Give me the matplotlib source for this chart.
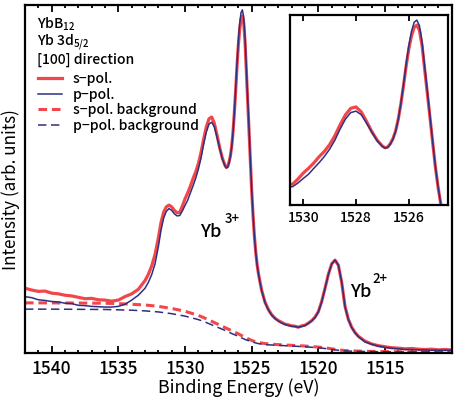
import matplotlib
matplotlib.use("Agg")
import matplotlib.pyplot as plt
from matplotlib.lines import Line2D

plt.rcParams['font.family'] = ['Noto Sans CJK JP', 'DejaVu Sans']
plt.rcParams['font.weight'] = 'medium'
plt.rcParams['mathtext.default'] = 'regular'

# ---------------- data ----------------
energy = [
    1542.0, 1541.5, 1541.0, 1540.5, 1540.0, 1539.5, 1539.0, 1538.5, 1538.0, 1537.5,
    1537.0, 1536.5, 1536.0, 1535.5, 1535.0, 1534.5, 1534.0, 1533.5, 1533.0,
    1532.75, 1532.5, 1532.25, 1532.0,
    1531.8, 1531.6, 1531.4, 1531.2, 1531.0, 1530.8, 1530.6, 1530.4, 1530.2, 1530.0,
    1529.8, 1529.6, 1529.4, 1529.2, 1529.0, 1528.8, 1528.6, 1528.4, 1528.2, 1528.0,
    1527.8, 1527.6, 1527.4, 1527.2, 1527.0,
    1526.9, 1526.8, 1526.7, 1526.6, 1526.5, 1526.4, 1526.3, 1526.2, 1526.1, 1526.0,
    1525.9, 1525.8, 1525.7, 1525.6, 1525.5, 1525.4, 1525.3, 1525.2, 1525.1, 1525.0,
    1524.9, 1524.8, 1524.7, 1524.6, 1524.5, 1524.4,
    1524.25, 1524.0, 1523.75, 1523.5, 1523.25, 1523.0, 1522.75, 1522.5, 1522.25, 1522.0,
    1521.75, 1521.5, 1521.25, 1521.0, 1520.75, 1520.5, 1520.25, 1520.0, 1519.75, 1519.5,
    1519.25, 1519.0, 1518.75, 1518.5, 1518.25, 1518.0, 1517.75, 1517.5, 1517.25, 1517.0,
    1516.5, 1516.0, 1515.5, 1515.0, 1514.5, 1514.0, 1513.5, 1513.0, 1512.5, 1512.0,
    1511.5, 1511.0, 1510.5, 1510.1,
]

s_pol = [
    18.6, 18.1, 17.7, 17.8, 17.2, 17.0, 16.6, 16.4, 16.0, 15.6,
    15.7, 15.3, 15.2, 14.9, 15.2, 16.2, 17.0, 18.3, 20.8,
    22.6, 25.0, 28.3, 33.0,
    37.5, 40.5, 42.0, 42.5, 42.0, 41.0, 40.3, 40.4, 42.2, 44.3,
    46.0, 47.9, 50.1, 52.0, 54.4, 57.6, 61.5, 65.0, 67.3, 67.8,
    66.0, 62.6, 59.0, 56.0, 53.9,
    53.3, 53.6, 54.8, 56.6, 59.3, 63.5, 69.0, 75.5, 82.5, 88.5,
    93.0, 96.0, 96.8, 95.0, 89.5, 81.0, 72.5, 64.0, 55.3, 46.8,
    39.7, 33.8, 29.2, 25.6, 23.0, 20.9,
    18.0, 14.6, 12.5, 11.0, 10.0, 9.3, 8.8, 8.3, 8.1, 7.8,
    7.7, 7.4, 7.8, 8.0, 8.6, 9.3, 10.3, 11.9, 14.8, 18.6,
    22.6, 25.6, 26.7, 25.2, 20.3, 13.4, 9.7, 7.4, 5.9, 4.8,
    3.4, 2.6, 2.1, 1.8, 1.5, 1.4, 1.2, 1.3, 1.1, 1.0,
    1.1, 0.9, 1.0, 0.9,
]

p_pol = [
    16.2, 15.9, 15.3, 15.1, 14.8, 14.7, 14.3, 14.2, 13.7, 13.6,
    13.4, 13.3, 13.2, 13.2, 13.4, 14.0, 15.2, 16.6, 18.6,
    20.3, 22.5, 25.6, 30.5,
    35.3, 38.8, 40.7, 41.5, 41.0, 40.0, 39.4, 39.5, 40.8, 42.4,
    43.9, 46.0, 48.0, 50.2, 52.8, 56.0, 60.0, 63.5, 65.8, 66.3,
    65.0, 62.0, 58.8, 55.8, 53.7,
    53.2, 53.4, 54.6, 56.4, 59.2, 63.4, 69.2, 76.0, 83.2, 89.6,
    94.6, 97.8, 98.6, 96.6, 90.8, 82.0, 73.3, 64.5, 55.6, 47.0,
    39.8, 33.8, 29.1, 25.5, 22.9, 20.8,
    17.9, 14.5, 12.4, 10.9, 9.9, 9.2, 8.6, 8.2, 7.9, 7.7,
    7.6, 7.4, 7.6, 7.9, 8.5, 9.2, 10.2, 11.8, 14.7, 18.5,
    22.6, 25.6, 26.7, 25.3, 20.4, 13.3, 9.6, 7.3, 5.8, 4.7,
    3.2, 2.5, 2.0, 1.6, 1.4, 1.2, 1.0, 1.0, 0.9, 0.9,
    0.8, 0.8, 0.8, 0.8,
]

bg_energy = [
    1542.0, 1540.0, 1538.0, 1536.0, 1535.0, 1534.0, 1533.0, 1532.0, 1531.0, 1530.0,
    1529.0, 1528.5, 1528.0, 1527.5, 1527.0, 1526.5, 1526.0, 1525.5, 1525.0, 1524.5,
    1524.0, 1523.0, 1522.0, 1521.0, 1520.0, 1519.5, 1519.0, 1518.5, 1518.0, 1517.0,
    1516.0, 1514.0, 1512.0, 1510.1,
]
s_bg = [
    14.4, 14.4, 14.35, 14.3, 14.2, 14.0, 13.8, 13.4, 12.8, 12.0,
    10.8, 10.0, 9.1, 8.2, 7.3, 6.4, 5.5, 4.5, 3.6, 3.0,
    2.7, 2.4, 2.2, 2.0, 1.7, 1.5, 1.2, 0.9, 0.7, 0.55,
    0.45, 0.35, 0.3, 0.3,
]
p_bg = [
    12.6, 12.6, 12.55, 12.5, 12.4, 12.3, 12.1, 11.8, 11.3, 10.6,
    9.6, 8.9, 8.1, 7.3, 6.5, 5.6, 4.8, 3.9, 3.2, 2.7,
    2.4, 2.2, 2.0, 1.8, 1.5, 1.3, 1.0, 0.8, 0.6, 0.45,
    0.4, 0.3, 0.3, 0.3,
]

main_ticks = [1540, 1535, 1530, 1525, 1520, 1515]
inset_ticks = [1530, 1528, 1526]
series_labels = ["s\u2212pol.", "p\u2212pol.", "s\u2212pol. background", "p\u2212pol. background"]
header_lines = ["YbB$_{12}$", "Yb 3d$_{5/2}$", "[100] direction"]

RED = "#f2474a"
BLUE = "#2e2f82"

W, H = 463, 397
fig = plt.figure(figsize=(W / 100, H / 100), dpi=100)

# ---------------- main axes ----------------
ax = fig.add_axes([25 / W, (H - 353) / H, 426.7 / W, 348 / H])
ax.plot(bg_energy, s_bg, color=RED, lw=2.2, ls=(0, (2.8, 1.6)))
ax.plot(bg_energy, p_bg, color=BLUE, lw=1.1, ls=(0, (5.5, 3)))
ax.plot(energy, s_pol, color=RED, lw=2.3)
ax.plot(energy, p_pol, color=BLUE, lw=1.1)
ax.set_xlim(1542.0, 1510.13)
ax.set_ylim(0, 100)
ax.set_yticks([])
ax.set_xticks(main_ticks)
ax.set_xticks(range(1510, 1543), minor=True)
ax.tick_params(axis='x', which='both', direction='in', top=True, bottom=True,
               width=1.3, labelsize=12.5, pad=5)
ax.tick_params(axis='x', which='major', length=5)
ax.tick_params(axis='x', which='minor', length=2.5)
for sp in ax.spines.values():
    sp.set_linewidth(1.6)
ax.set_xlabel("Binding Energy (eV)", fontsize=12.8, labelpad=0)
ax.set_ylabel("Intensity (arb. units)", fontsize=12.3)
ax.yaxis.set_label_coords(-0.012, 0.47)

# peak annotations: base text plus raised superscript
ax.text(1528.89, 33.3, "Yb", fontsize=13, va='baseline', ha='left')
ax.text(1527.05, 37.3, "3+", fontsize=9.5, va='baseline', ha='left')
ax.text(1517.65, 16.1, "Yb", fontsize=13, va='baseline', ha='left')
ax.text(1515.97, 20.1, "2+", fontsize=9.5, va='baseline', ha='left')

# header lines
for i, t in enumerate(header_lines):
    fig.text(37 / W, 1 - (29 + 17.5 * i) / H, t, fontsize=10, va='baseline', ha='left')

handles = [
    Line2D([], [], color=RED, lw=2.3),
    Line2D([], [], color=BLUE, lw=1.1),
    Line2D([], [], color=RED, lw=2.2, ls=(0, (2.8, 1.6))),
    Line2D([], [], color=BLUE, lw=1.1, ls=(0, (5.5, 3))),
]
fig.legend(handles, series_labels, loc='upper left', bbox_to_anchor=(38 / W, 1 - 72 / H),
           frameon=False, fontsize=10, handlelength=1.75, handletextpad=0.75,
           labelspacing=0.12, borderpad=0, borderaxespad=0)

# ---------------- inset ----------------
axi = fig.add_axes([290 / W, (H - 205) / H, 157.7 / W, 190 / H])
axi.plot(energy, s_pol, color=RED, lw=2.3)
axi.plot(energy, p_pol, color=BLUE, lw=1.1)
axi.set_xlim(1530.5, 1524.53)
axi.set_ylim(33.0, 100.4)
axi.set_yticks([])
axi.set_xticks(inset_ticks)
axi.tick_params(axis='x', which='major', direction='in', top=True, bottom=True,
                length=4.5, width=1.3, labelsize=10, pad=4)
for sp in axi.spines.values():
    sp.set_linewidth(1.6)

fig.savefig("out.png", dpi=100)
